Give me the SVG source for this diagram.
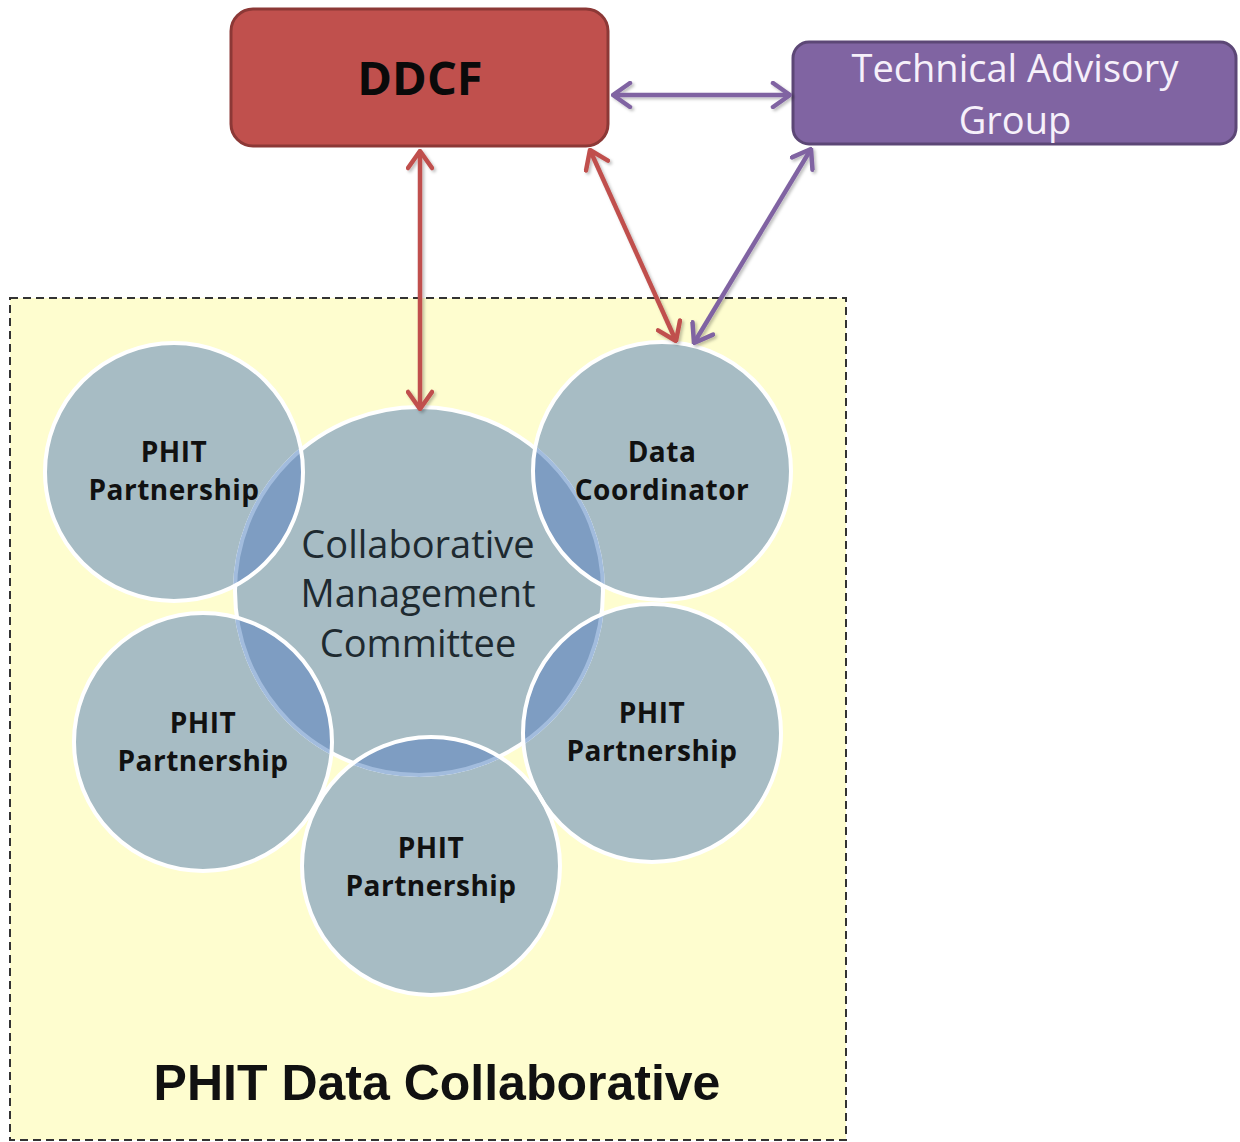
<svg xmlns="http://www.w3.org/2000/svg" width="1240" height="1142" viewBox="0 0 1240 1142">
<style>
.lbl{font-family:"Open Sans","Liberation Sans",sans-serif;font-weight:700;font-size:28px;fill:#111;text-anchor:middle;letter-spacing:0.5px}
.circ{fill:#A7BCC4}
.ring{fill:none;stroke:#fff;stroke-width:4}
.lens{fill:#7E9DC2}
.red{stroke:#C0504D;stroke-width:4.5;fill:none}
.pur{stroke:#8064A2;stroke-width:4.5;fill:none}
</style>
<defs>
<marker id="ar" viewBox="0 0 22 28" refX="20" refY="14" markerWidth="22" markerHeight="28" markerUnits="userSpaceOnUse" orient="auto-start-reverse">
<path d="M3,2 L20,14 L3,26" fill="none" stroke="#C0504D" stroke-width="4.5" stroke-linecap="round" stroke-linejoin="round"/>
</marker>
<marker id="ap" viewBox="0 0 22 28" refX="20" refY="14" markerWidth="22" markerHeight="28" markerUnits="userSpaceOnUse" orient="auto-start-reverse">
<path d="M3,2 L20,14 L3,26" fill="none" stroke="#8064A2" stroke-width="4.5" stroke-linecap="round" stroke-linejoin="round"/>
</marker>
<filter id="sh" x="-20%" y="-20%" width="140%" height="140%">
<feDropShadow dx="2" dy="2" stdDeviation="1.5" flood-color="#000" flood-opacity="0.25"/>
</filter>
<clipPath id="cc"><circle cx="419" cy="591" r="184"/></clipPath>
<clipPath id="sc">
<circle cx="174" cy="472" r="129"/>
<circle cx="662" cy="471" r="129"/>
<circle cx="203" cy="742" r="129"/>
<circle cx="652" cy="733" r="129"/>
<circle cx="431" cy="866" r="129"/>
</clipPath>
</defs>

<g id="collaborative-area">
<rect x="10" y="298" width="836" height="842" fill="#FEFDCF" stroke="#333" stroke-width="2" stroke-dasharray="8,5"/>
<text x="437" y="1100" font-family="Liberation Sans, Arial, sans-serif" font-weight="700" font-size="50" fill="#111" text-anchor="middle">PHIT Data Collaborative</text>
</g>

<g id="circles-base">
<circle class="circ" cx="174" cy="472" r="129"/>
<circle class="circ" cx="662" cy="471" r="129"/>
<circle class="circ" cx="203" cy="742" r="129"/>
<circle class="circ" cx="652" cy="733" r="129"/>
<circle class="circ" cx="431" cy="866" r="129"/>
</g>

<g id="cmc">
<circle cx="419" cy="591" r="184" fill="#A7BCC4" stroke="#fff" stroke-width="4"/>
<g clip-path="url(#cc)">
<circle class="lens" cx="174" cy="472" r="129"/>
<circle class="lens" cx="662" cy="471" r="129"/>
<circle class="lens" cx="203" cy="742" r="129"/>
<circle class="lens" cx="652" cy="733" r="129"/>
<circle class="lens" cx="431" cy="866" r="129"/>
</g>
<g clip-path="url(#sc)">
<circle cx="419" cy="591" r="184" fill="none" stroke="#A2BCDD" stroke-width="4"/>
</g>
</g>

<g id="pp1"><circle class="ring" cx="174" cy="472" r="129"/>
<text class="lbl" x="174" y="462">PHIT</text><text class="lbl" x="174" y="500">Partnership</text></g>
<g id="dc"><circle class="ring" cx="662" cy="471" r="129"/>
<text class="lbl" x="662" y="462">Data</text><text class="lbl" x="662" y="500">Coordinator</text></g>
<g id="pp2"><circle class="ring" cx="203" cy="742" r="129"/>
<text class="lbl" x="203" y="733">PHIT</text><text class="lbl" x="203" y="771">Partnership</text></g>
<g id="pp3"><circle class="ring" cx="652" cy="733" r="129"/>
<text class="lbl" x="652" y="723">PHIT</text><text class="lbl" x="652" y="761">Partnership</text></g>
<g id="pp4"><circle class="ring" cx="431" cy="866" r="129"/>
<text class="lbl" x="431" y="858">PHIT</text><text class="lbl" x="431" y="896">Partnership</text></g>

<g id="cmc-label" font-family="Open Sans, Liberation Sans, sans-serif" font-size="38" fill="#1E2A30" text-anchor="middle">
<text x="418" y="558">Collaborative</text>
<text x="418" y="607">Management</text>
<text x="418" y="657">Committee</text>
</g>

<g id="ddcf">
<rect x="231" y="9" width="377" height="137" rx="22" fill="#C0504D" stroke="#8C3836" stroke-width="3"/>
<text x="420" y="95" font-family="Open Sans, Liberation Sans, sans-serif" font-weight="700" font-size="47" fill="#0A0A0A" text-anchor="middle">DDCF</text>
</g>

<g id="tag">
<rect x="793" y="42" width="443" height="102" rx="16" fill="#8064A2" stroke="#5C4776" stroke-width="3"/>
<g font-family="Open Sans, Liberation Sans, sans-serif" font-size="38" fill="#F6F0FA" text-anchor="middle">
<text x="1015" y="82">Technical Advisory</text>
<text x="1015" y="134">Group</text>
</g>
</g>

<g id="connectors" filter="url(#sh)">
<line class="pur" x1="613" y1="95" x2="790" y2="95" marker-start="url(#ap)" marker-end="url(#ap)"/>
<line class="red" x1="420" y1="151" x2="420" y2="409" marker-start="url(#ar)" marker-end="url(#ar)"/>
<line class="red" x1="590" y1="150" x2="676" y2="341" marker-start="url(#ar)" marker-end="url(#ar)"/>
<line class="pur" x1="811" y1="149" x2="694" y2="343" marker-start="url(#ap)" marker-end="url(#ap)"/>
</g>
</svg>
